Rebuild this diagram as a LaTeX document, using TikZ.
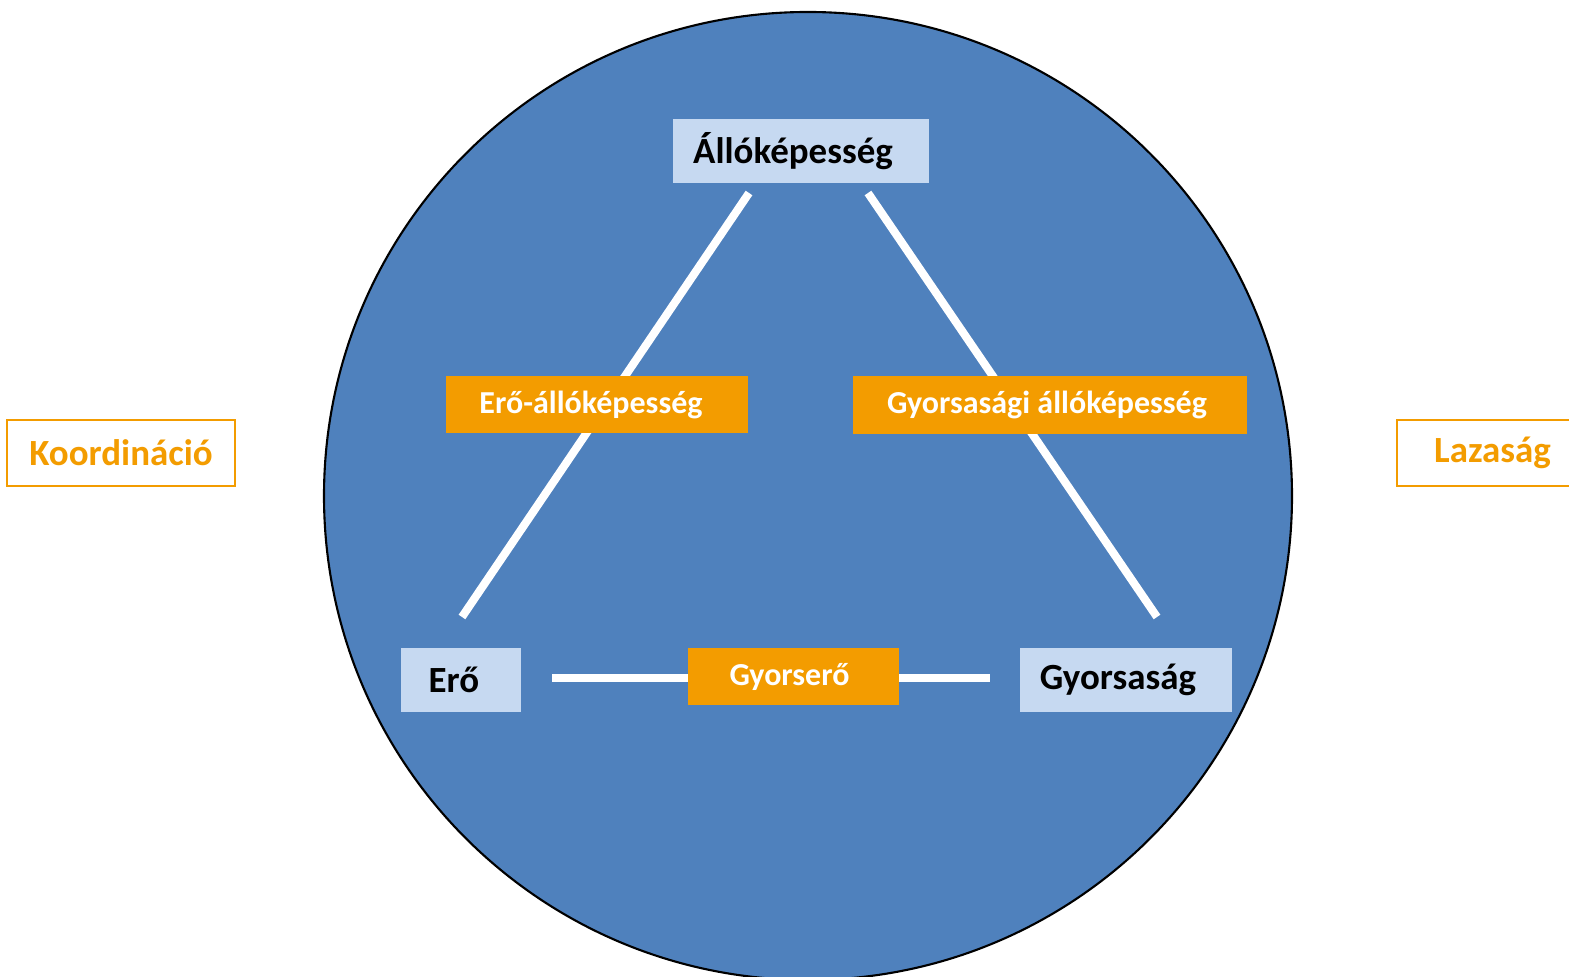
\documentclass[tikz,border=0pt]{standalone}
\usepackage{fontspec}
\setmainfont{Carlito}
\usepackage{xcolor}
\usepackage{tikz}

\definecolor{kor}{HTML}{4F81BD}
\definecolor{halvany}{HTML}{C6D9F1}
\definecolor{narancs}{HTML}{F39C00}

\begin{document}
\begin{tikzpicture}[x=0.01cm,y=-0.01cm,
  fo/.style={fill=halvany,inner sep=0pt,font=\fontsize{10.5}{12}\selectfont\bfseries},
  kevert/.style={fill=narancs,text=white,inner sep=0pt,font=\fontsize{9.1}{11}\selectfont\bfseries},
  kulso/.style={draw=narancs,line width=0.6pt,fill=white,text=narancs,inner sep=0pt,font=\fontsize{10.5}{12}\selectfont\bfseries},
  vonal/.style={white,line width=2.3pt}]
  \useasboundingbox (0,0) rectangle (1569,977);
  \fill[kor] (808,496) circle[radius=484];
  \draw[black,line width=0.6pt] (808,496) circle[radius=484];
  % end points of the white bars
  \coordinate (b1) at (749,193);
  \coordinate (b2) at (462,617);
  \coordinate (j1) at (868,193);
  \coordinate (j2) at (1157,617);
  \coordinate (v1) at (552,678);
  \coordinate (v2) at (990,678);
  \draw[vonal] (b1) -- (b2);
  \draw[vonal] (j1) -- (j2);
  \draw[vonal] (v1) -- (v2);
  % main abilities
  \node[fo,minimum width=2.56cm,minimum height=0.64cm] (allo) at (801,151) {Állóképesség\kern0.16cm};
  \node[fo,minimum width=1.20cm,minimum height=0.64cm] (ero) at (461,680) {Erő\kern0.14cm};
  \node[fo,minimum width=2.12cm,minimum height=0.64cm] (gyors) at (1126,680) {Gyorsaság\kern0.16cm};
  % mixed abilities
  \node[kevert,minimum width=3.02cm,minimum height=0.57cm] (eroallo) at (597,404.5) {Erő-állóképesség\kern0.12cm};
  \node[kevert,minimum width=3.94cm,minimum height=0.58cm] (gyorsallo) at (1050,405) {Gyorsasági állóképesség\kern0.06cm};
  \node[kevert,minimum width=2.11cm,minimum height=0.57cm] (gyorsero) at (793.5,676.5) {Gyorserő\kern0.08cm};
  % outside
  \node[kulso,minimum width=2.28cm,minimum height=0.66cm] (koord) at (121,453) {Koordináció};
  \node[kulso,minimum width=1.91cm,minimum height=0.66cm] (laza) at (1492.5,453) {Lazaság};
\end{tikzpicture}
\end{document}
